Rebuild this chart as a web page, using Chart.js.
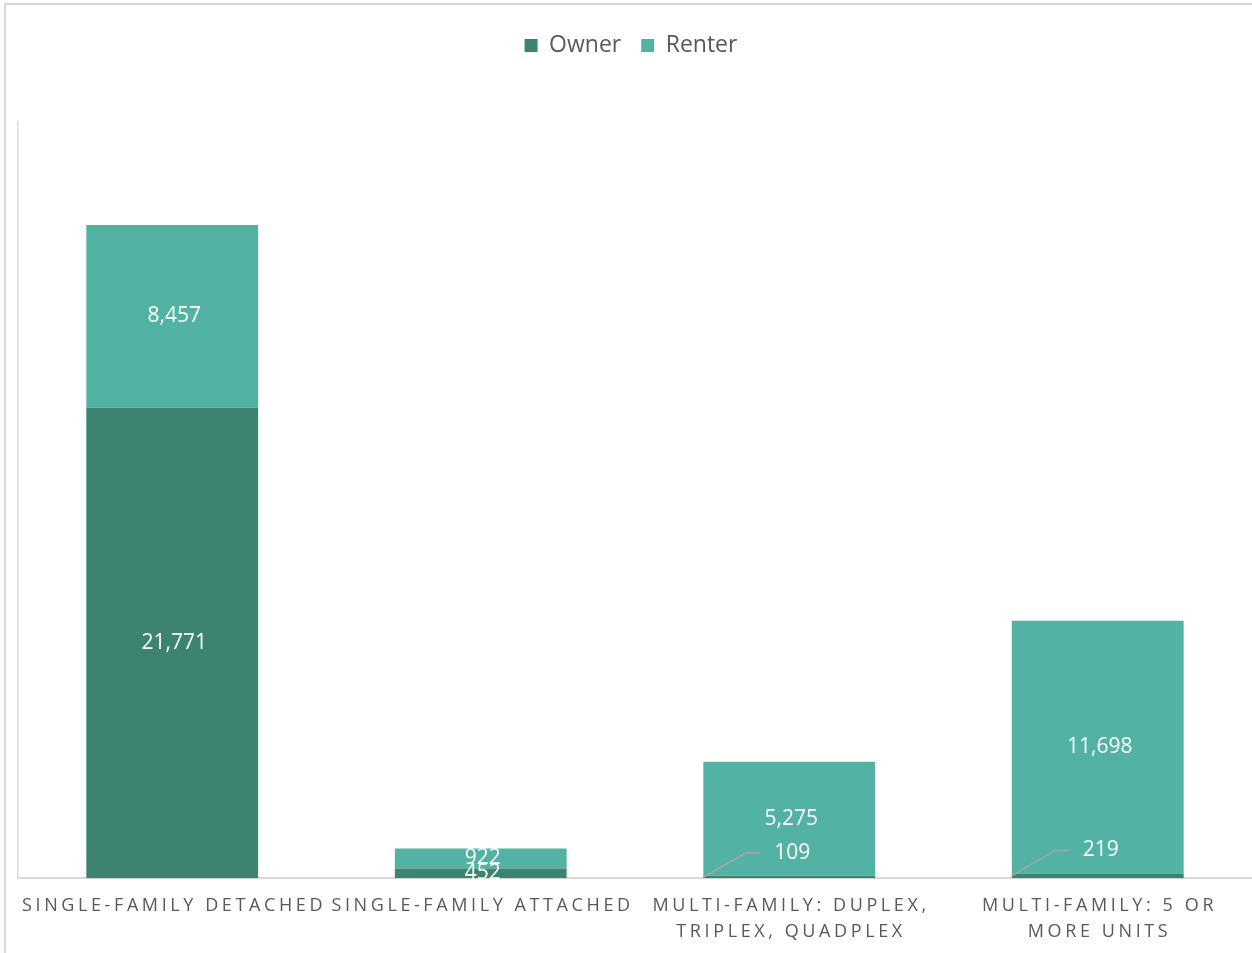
<!DOCTYPE html>
<html>
<head>
<meta charset="utf-8">
<script src="https://cdn.jsdelivr.net/npm/chart.js@4/dist/chart.umd.min.js"></script>
<style>
  html, body { margin: 0; padding: 0; background: #fff; }
  #frame {
    position: absolute; left: 4px; top: 3px; width: 1260px; height: 970px;
    border: 2px solid #d9d9d9; box-sizing: border-box;
  }
  #wrap { position: absolute; left: 0; top: 0; width: 1252px; height: 953px; }
</style>
</head>
<body>
<div id="frame"></div>
<div id="wrap"><canvas id="chart"></canvas></div>
<script>
const categories = [
  ["SINGLE-FAMILY DETACHED"],
  ["SINGLE-FAMILY ATTACHED"],
  ["MULTI-FAMILY: DUPLEX,", "TRIPLEX, QUADPLEX"],
  ["MULTI-FAMILY: 5 OR", "MORE UNITS"]
];
const owner = [21771, 452, 109, 219];
const renter = [8457, 922, 5275, 11698];

const OWNER_COLOR = "#3c8470";
const RENTER_COLOR = "#52b3a5";
const TEXT_GRAY = "#595959";

// room between the legend and the plot
const legendGap = {
  id: "legendGap",
  beforeInit(chart) {
    const fit = chart.legend.fit;
    chart.legend.fit = function () {
      fit.bind(chart.legend)();
      this.height += 55;
    };
  }
};

// white value labels in the middle of each segment; thin slivers get a leader line
const valueLabels = {
  id: "valueLabels",
  afterDatasetsDraw(chart) {
    const ctx = chart.ctx;
    ctx.save();
    ctx.font = "21px 'Open Sans'";
    ctx.textAlign = "center";
    ctx.textBaseline = "middle";
    chart.data.datasets.forEach((ds, di) => {
      chart.getDatasetMeta(di).data.forEach((bar, i) => {
        const text = ds.data[i].toLocaleString("en-US");
        const h = bar.base - bar.y;
        const midY = (bar.y + bar.base) / 2;
        if (h < 6) {
          const left = bar.x - bar.width / 2;
          const ly = bar.y - 23;
          ctx.strokeStyle = "#a6a6a6";
          ctx.lineWidth = 1.5;
          ctx.beginPath();
          ctx.moveTo(left, midY);
          ctx.lineTo(left + 43, ly);
          ctx.lineTo(left + 57, ly);
          ctx.stroke();
          ctx.fillStyle = "#fff";
          ctx.fillText(text, bar.x + 3, ly);
        } else {
          ctx.fillStyle = "#fff";
          ctx.fillText(text, bar.x + 2, midY);
        }
      });
    });
    ctx.restore();
  }
};

// spaced-out category names under the axis
const spacedTicks = {
  id: "spacedTicks",
  afterDraw(chart) {
    const ctx = chart.ctx;
    const x = chart.scales.x;
    ctx.save();
    ctx.font = "18px 'Open Sans'";
    ctx.letterSpacing = "3.6px";
    ctx.fillStyle = TEXT_GRAY;
    ctx.textAlign = "center";
    ctx.textBaseline = "middle";
    categories.forEach((lines, i) => {
      const cx = x.getPixelForValue(i) + 1.8;
      lines.forEach((line, j) => {
        ctx.fillText(line, cx, x.top + 28 + j * 26);
      });
    });
    ctx.restore();
  }
};

new Chart(document.getElementById("chart"), {
  type: "bar",
  data: {
    labels: categories,
    datasets: [
      { label: "Owner", data: owner, backgroundColor: OWNER_COLOR },
      { label: "Renter", data: renter, backgroundColor: RENTER_COLOR }
    ]
  },
  options: {
    responsive: true,
    maintainAspectRatio: false,
    animation: false,
    layout: { padding: { top: 14, left: 10, right: 0, bottom: 4 } },
    datasets: {
      bar: { categoryPercentage: 0.557, barPercentage: 1 }
    },
    scales: {
      x: {
        stacked: true,
        grid: { display: false },
        border: { color: "#d9d9d9", width: 2 },
        ticks: {
          color: "rgba(0,0,0,0)",
          font: { family: "Open Sans", size: 17 },
          maxRotation: 0,
          autoSkip: false,
          padding: 11
        }
      },
      y: {
        stacked: true,
        min: 0,
        max: 35000,
        grid: { display: false },
        border: { color: "#d9d9d9", width: 1.5 },
        ticks: { display: false }
      }
    },
    plugins: {
      legend: {
        position: "top",
        labels: {
          color: TEXT_GRAY,
          font: { family: "Open Sans", size: 23 },
          boxWidth: 13,
          boxHeight: 13,
          padding: 20
        }
      },
      tooltip: { enabled: false }
    }
  },
  plugins: [legendGap, valueLabels, spacedTicks]
});
</script>
</body>
</html>
